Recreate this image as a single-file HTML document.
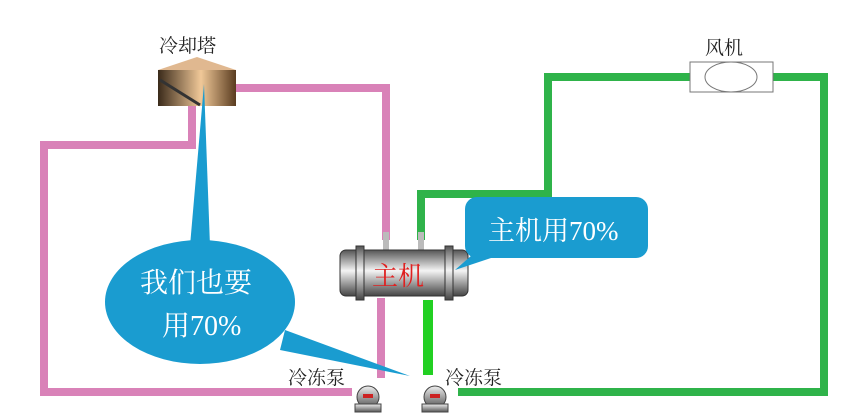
<!DOCTYPE html>
<html><head><meta charset="utf-8"><style>
body{margin:0;background:#fff;}
svg{display:block}
text{font-family:"Liberation Serif","Noto Serif CJK SC",serif;}
</style></head><body>
<svg width="850" height="419" viewBox="0 0 850 419" xmlns="http://www.w3.org/2000/svg">
<defs>
<linearGradient id="tw" x1="0" x2="1"><stop offset="0" stop-color="#3a2a1a"/><stop offset="0.55" stop-color="#f0c898"/><stop offset="1" stop-color="#5a3c20"/></linearGradient>
<linearGradient id="eng" x1="0" y1="0" x2="0" y2="1"><stop offset="0" stop-color="#555"/><stop offset="0.45" stop-color="#f4f4f4"/><stop offset="1" stop-color="#444"/></linearGradient>
<linearGradient id="pump" x1="0" y1="0" x2="0" y2="1"><stop offset="0" stop-color="#eee"/><stop offset="1" stop-color="#555"/></linearGradient>
</defs>
<g fill="none" stroke-linejoin="miter" stroke-width="8">
<polyline stroke="#d982b8" points="232,88 386,88 386,240"/>
<polyline stroke="#d982b8" points="192,105 192,145 44,145 44,392 352,392"/>
<polyline stroke="#d982b8" points="381,298 381,378"/>
<polyline stroke="#2fb34a" points="421,240 421,194 548,194 548,77 692,77"/>
<polyline stroke="#2fb34a" points="772,77 824,77 824,392 458,392"/>
<polyline stroke="#22d022" stroke-width="10" points="428,300 428,375"/>
</g>
<path d="M158,70 L197,57 L236,70 Z" fill="#e0b890"/>
<rect x="158" y="70" width="78" height="36" fill="url(#tw)"/>
<line x1="160" y1="80" x2="200" y2="105" stroke="#333" stroke-width="3"/>
<text x="159" y="52" font-size="19" fill="#222">冷却塔</text>
<rect x="690" y="62" width="83" height="30" fill="#fff" stroke="#777"/>
<ellipse cx="731" cy="77" rx="26" ry="15" fill="#fff" stroke="#777"/>
<text x="705" y="54" font-size="19" fill="#222">风机</text>
<rect x="383" y="232" width="6" height="20" fill="#bbb"/>
<rect x="418" y="232" width="6" height="20" fill="#bbb"/>
<rect x="340" y="250" width="128" height="46" rx="6" fill="url(#eng)" stroke="#333"/>
<rect x="356" y="246" width="8" height="54" fill="url(#eng)" stroke="#333"/>
<rect x="445" y="246" width="8" height="54" fill="url(#eng)" stroke="#333"/>
<text x="372" y="285" font-size="26" fill="#e02020">主机</text>
<g fill="url(#pump)" stroke="#444">
<circle cx="368" cy="397" r="11"/><rect x="355" y="404" width="26" height="8"/>
<circle cx="435" cy="397" r="11"/><rect x="422" y="404" width="26" height="8"/>
</g>
<rect x="363" y="394" width="10" height="4" fill="#c22"/>
<rect x="430" y="394" width="10" height="4" fill="#c22"/>
<text x="288" y="384" font-size="19" fill="#222">冷冻泵</text>
<text x="445" y="384" font-size="19" fill="#222">冷冻泵</text>
<g fill="#1a9cd0">
<rect x="465" y="197" width="183" height="61" rx="12"/>
<polygon points="480,248 455,270 500,255"/>
<ellipse cx="200" cy="302" rx="95" ry="62"/>
<polygon points="190,246 204,84 210,246"/>
<polygon points="285,330 410,376 280,350"/>
</g>
<text x="488" y="240" font-size="27" fill="#fff">主机用70%</text>
<text x="140" y="292" font-size="28" fill="#fff">我们也要</text>
<text x="162" y="335" font-size="28" fill="#fff">用70%</text>
</svg>
</body></html>
